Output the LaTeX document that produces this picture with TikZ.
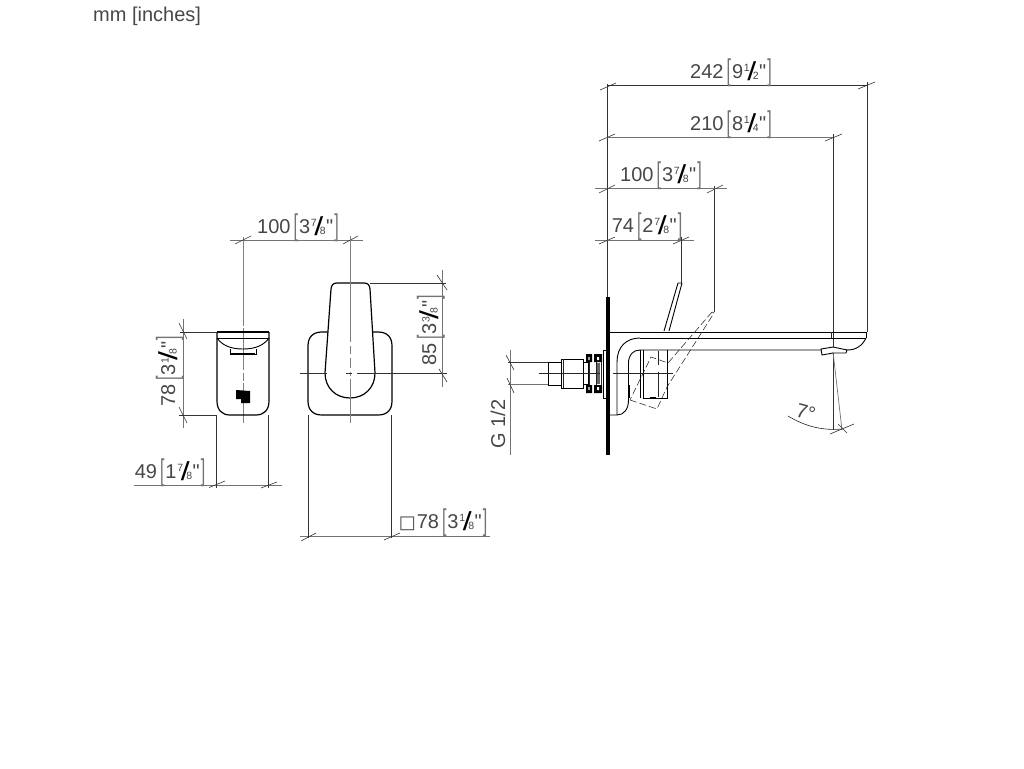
\documentclass[tikz,border=0pt]{standalone}
\usepackage{fontspec}
\usepackage{graphicx}
\newfontfamily\lf{Liberation Sans}
\newfontfamily\symfont{DejaVu Sans}
\newcommand\brL{\raisebox{-2.5pt}{\scalebox{0.8}[1.5]{\textcolor{black!55}{[}}}}
\newcommand\brR{\raisebox{-2.5pt}{\scalebox{0.8}[1.5]{\textcolor{black!55}{]}}}}
\newcommand\frc[2]{\kern0.8pt\raisebox{6.5pt}{\fontsize{10.5}{11}\selectfont #1}\kern-2.4pt\raisebox{-2.5pt}{\scalebox{1.6}[1.3]{\textcolor{black}{/}}}\kern-3.4pt\raisebox{-1.5pt}{\fontsize{10.5}{11}\selectfont #2}}
\newcommand\dm[4]{#1\kern3pt\brL\kern1pt#2\frc{#3}{#4}\kern0.5pt"\kern1pt\brR}
\tikzset{
  x=1pt,y=-1pt,
  lab/.style={inner sep=0pt,text=black!72,font=\lf\fontsize{20}{22}\selectfont},
  dimgray/.style={line width=0.7pt,draw=black!55},
  ext/.style={line width=0.6pt,draw=black!80},
  tick/.style={line width=0.6pt,draw=black!80},
  part/.style={line width=0.9pt,draw=black},
  heavy/.style={line width=1.2pt,draw=black},
  thinp/.style={line width=0.6pt,draw=black!85},
  hidden/.style={line width=0.55pt,draw=black!85,dash pattern=on 7pt off 3pt},
  axis/.style={line width=0.9pt,draw=black!50},
}
\begin{document}
\begin{tikzpicture}
\useasboundingbox (0,0) rectangle (1024,768);
% header
\node[lab,anchor=base west] (unit) at (93,22) {mm [inches]};

% ---------- left view
\draw[axis] (243,237)--(243,326) (243,328)--(243,370) (243,373)--(243,381) (243,383)--(243,423);
\draw[heavy] (217,332)--(269,332);
\draw[heavy] (217,332)--(217,401) .. controls (217,410) and (222,415) .. (230,415) -- (256,415) .. controls (264,415) and (269,410) .. (269,401) -- (269,332);
\draw[part] (217,338)--(269,338);
\draw[part] (217,338) .. controls (222,345) and (230,349) .. (243,349) .. controls (256,349) and (264,345) .. (269,338);
\draw[part] (230,349)--(230,354)--(256,354)--(256,349);
\draw[line width=1.6pt] (231,353.5)--(255,353.5);
\fill[black] (236,390)--(250,391)--(250,403)--(241,403)--(241,399)--(236,399)--cycle;
\draw[dimgray] (183,319)--(183,428);
\draw[ext] (180,332)--(217,332) (179,415)--(217,415);
\draw[tick] (179,323)--(187,339) (179,407)--(187,423);
\draw[dimgray] (134,485)--(282,485);
\draw[ext] (216.5,415)--(216.5,488) (268,415)--(268,488);
\draw[tick] (209,487.5)--(225,481) (261,488)--(277,482);
\draw[dimgray] (230,240)--(363,240);
\draw[tick] (235,244)--(251,236) (343,244)--(358,236);
\node[lab,anchor=base] (d100a) at (298,233) {\dm{100}{3}{7}{8}};
\node[lab,anchor=base,rotate=90] (d78a) at (175,371) {\dm{78}{3}{1}{8}};
\node[lab,anchor=base] (d49) at (170,478) {\dm{49}{1}{7}{8}};

% ---------- front view
\draw[heavy] (322,332) .. controls (313,332) and (308,337) .. (308,346) -- (308,401) .. controls (308,410) and (313,415) .. (322,415) -- (378,415) .. controls (387,415) and (392,410) .. (392,401) -- (392,346) .. controls (392,337) and (387,332) .. (378,332) -- cycle;
\draw[heavy,fill=white] (337,283) -- (364,283) .. controls (368,283) and (369.5,285) .. (370,289) -- (375,373) .. controls (375,388) and (364,398) .. (350,398) .. controls (336,398) and (325,388) .. (325,373) -- (331,289) .. controls (331.5,285) and (333,283) .. (337,283) -- cycle;
\draw[axis] (350,236)--(350,342) (350,346)--(350,354) (350,358)--(350,368) (350,372)--(350,376) (350,379)--(350,423);
\draw[ext] (300,373)--(327,373) (346,373)--(352,373) (357,373)--(447,373);
\draw[dimgray] (442,270)--(442,387);
\draw[ext] (370,283)--(446,283);
\draw[tick] (437,275)--(447,290) (439,369)--(447,382);
\draw[dimgray] (300,536)--(490,536);
\draw[ext] (308,415)--(308,538) (391,415)--(391,538);
\draw[tick] (301,541)--(316,533) (384,540)--(400,533);
\node[lab,anchor=base,rotate=90] (d85) at (436,330) {\dm{85}{3}{3}{8}};
\node[lab,anchor=base] (d78b) at (443,528) {{\symfont\fontsize{18}{18}\selectfont □}\kern1pt\dm{78}{3}{1}{8}};

% ---------- side view: dimensions
\draw[ext] (607,84)--(607,297);
\draw[ext] (867,82)--(867,332);
\draw[ext] (833,134)--(833,430);
\draw[ext] (714.5,186)--(714.5,312);
\draw[ext] (681,237)--(681,283);
\draw[ext] (607,85)--(867,85);
\draw[dimgray] (607,137)--(833,137) (595,188)--(727,188) (595,240)--(694,240);
\draw[tick] (600,90)--(616,83) (858,89)--(875,82)
  (599,141)--(615,134) (825,141)--(842,134)
  (599,193)--(615,185) (707,193)--(723,185)
  (599,244)--(615,237) (673,244)--(689,237);
\node[lab,anchor=base] (d242) at (731,78) {\dm{242}{9}{1}{2}};
\node[lab,anchor=base] (d210) at (731,130) {\dm{210}{8}{1}{4}};
\node[lab,anchor=base] (d100b) at (661,181) {\dm{100}{3}{7}{8}};
\node[lab,anchor=base] (d74) at (647,232) {\dm{74}{2}{7}{8}};

% wall plate
\draw[line width=4pt] (607.5,297)--(607.5,455);

% spout
\draw[part] (609,332)--(866,332)--(866,338);
\draw[part] (640,338)--(866,338);
\draw[part] (640,338) .. controls (626,338) and (617,347) .. (617,362) -- (617,415);
\draw[part] (609,415)--(617,415) .. controls (624,415) and (628.5,409) .. (628.5,400) -- (628.5,363) .. controls (628.5,355) and (633,350) .. (640,350) -- (847,350) .. controls (856,350) and (862,346) .. (866,338);
\draw[thinp] (831,332)--(831,338);
\draw[part,fill=white] (821,349)--(833,347)--(847,350)--(846,353)--(833,353)--(822,355)--cycle;
% lever
\draw[part] (678,283)--(664,331) (682,283)--(669,331) (678,283)--(682,283);
% valve
\draw[part] (640,350)--(640,398);
\draw[part] (643,350)--(643,398)--(667,398)--(667,350);
\draw[thinp] (658,351)--(658,365) (658,372)--(658,397);
\draw[line width=1.4pt] (650,397.5)--(656,397.5);
\draw[line width=1.5pt] (629,385)--(629,398);
% hidden
\draw[hidden] (712,312)--(668,363)--(651,357)--(630,400);
\draw[hidden] (630,400)--(657,409)--(667,387)--(714,313);
\draw[thinp] (712,312)--(714,313);
% fittings
\draw[part] (561,362)--(548,362)--(548,385)--(561,385);
\draw[line width=1.4pt] (548.5,362)--(548.5,385);
\draw[part] (561,359)--(583,359)--(583,388)--(561,388)--cycle;
\draw[thinp] (563,359)--(563,388);
\draw[part] (583,362)--(588,362)--(588,384)--(583,384);
\fill[black] (586,354)--(592,354)--(592,362)--(586,362)--cycle (586,385)--(592,385)--(592,393)--(586,393)--cycle;
\fill[black] (594,354)--(602,354)--(602,362)--(594,362)--cycle (594,385)--(602,385)--(602,393)--(594,393)--cycle;
\fill[white] (588.3,357)--(589.7,357)--(589.7,360)--(588.3,360)--cycle (588.3,387)--(589.7,387)--(589.7,390)--(588.3,390)--cycle (597,357)--(599,357)--(599,360)--(597,360)--cycle (597,387)--(599,387)--(599,390)--(597,390)--cycle;
\draw[thinp] (589,362)--(589,385) (596,362)--(596,385);
\fill[black!60] (597,363) rectangle (600,384);
\draw[thinp] (601,362)--(601,385);
\draw[part] (606,350)--(603,350)--(603,398)--(606,398);
% centre line
\draw[thinp] (539,373)--(600,373) (613,373)--(673,373);
% G 1/2
\draw[dimgray] (510,350)--(510,455);
\draw[ext] (508,362)--(548,362);
\draw[dimgray] (508,384.5)--(548,384.5);
\draw[tick] (506,355)--(514,370) (507,378)--(514,393);
\node[lab,anchor=base,rotate=90] (g12) at (505,424) {G 1/2};
% angle
\draw[dimgray] (833,352)--(842,430);
\draw[thinp] (788,416) .. controls (803,425) and (820,431) .. (842,429);
\draw[tick] (830,434)--(854,424) (838,424)--(847,433);
\node[lab,anchor=base,rotate=-15] (ang) at (804,419) {7°};
\end{tikzpicture}
\end{document}
